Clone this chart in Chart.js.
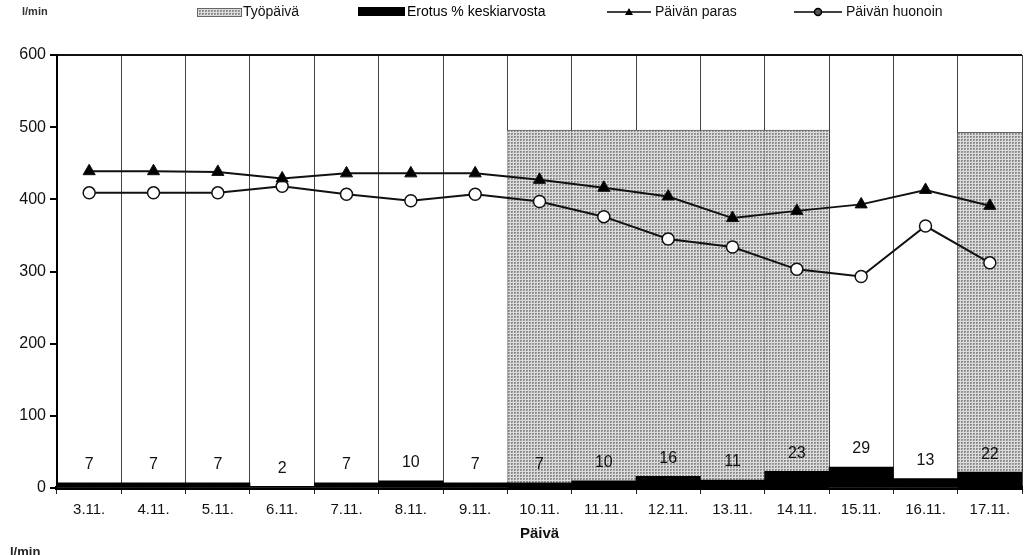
<!DOCTYPE html>
<html>
<head>
<meta charset="utf-8">
<script src="https://cdn.jsdelivr.net/npm/chart.js@4"></script>
<style>
  html, body { margin: 0; padding: 0; background: #fff; }
  #wrap { width: 1030px; height: 555px; position: relative; }
</style>
</head>
<body>
<div id="wrap"><canvas id="chart"></canvas></div>
<script>
// data
const paivat = ['3.11.', '4.11.', '5.11.', '6.11.', '7.11.', '8.11.', '9.11.', '10.11.',
                '11.11.', '12.11.', '13.11.', '14.11.', '15.11.', '16.11.', '17.11.'];
const tyopaiva = [0, 0, 0, 0, 0, 0, 0, 496, 496, 496, 496, 496, 0, 0, 493];
const erotus = [7, 7, 7, 2, 7, 10, 7, 7, 10, 16, 11, 23, 29, 13, 22];
const paivanParas = [439, 439, 438, 429, 436, 436, 436, 427, 416, 404, 374, 384, 393, 413, 391];
const paivanHuonoin = [409, 409, 409, 418, 407, 398, 407, 397, 376, 345, 334, 303, 293, 363, 312];
const yTicks = [0, 100, 200, 300, 400, 500, 600];

const FONT = '"Liberation Sans", Arial, sans-serif';

function makeGreyPattern(ctx) {
    const c = document.createElement('canvas');
    c.width = 3; c.height = 3;
    const g = c.getContext('2d');
    g.fillStyle = '#8c8c8c';
    g.fillRect(0, 0, 3, 3);
    g.fillStyle = '#dcdcdc';
    g.fillRect(0, 0, 3, 1);
    g.fillRect(0, 0, 1, 3);
    g.fillStyle = '#b0b0b0';
    g.fillRect(2, 2, 1, 1);
    return ctx.createPattern(c, 'repeat');
}

const canvas = document.getElementById('chart');
const ctx = canvas.getContext('2d');
const greyPattern = makeGreyPattern(ctx);

// numbers above the black bars
const barLabels = {
    id: 'barLabels',
    afterDatasetsDraw(chart) {
        const meta = chart.getDatasetMeta(1);
        const c = chart.ctx;
        c.save();
        c.fillStyle = '#111';
        c.font = '16px ' + FONT;
        c.textAlign = 'center';
        c.textBaseline = 'middle';
        meta.data.forEach((bar, i) => {
            c.fillText(String(erotus[i]), bar.x, bar.y - 18);
        });
        c.restore();
    }
};

// legend drawn in one row like the original
const topLegend = {
    id: 'topLegend',
    afterDraw(chart) {
        const c = chart.ctx;
        const ds = chart.data.datasets;
        const y = 12;
        c.save();
        c.font = '14px ' + FONT;
        c.textBaseline = 'middle';
        c.fillStyle = '#111';

        // Työpäivä
        c.fillStyle = greyPattern;
        c.fillRect(197, 8, 44, 8);
        c.strokeStyle = '#666';
        c.lineWidth = 1;
        c.strokeRect(197.5, 8.5, 44, 8);
        c.fillStyle = '#111';
        c.fillText(ds[2].label, 243, y);

        // Erotus
        c.fillStyle = '#000';
        c.fillRect(358, 7, 47, 9);
        c.fillText(ds[1].label, 407, y);

        // lines
        const lineItem = (x0, x1, d, tx) => {
            c.strokeStyle = '#000';
            c.lineWidth = 1.5;
            c.beginPath();
            c.moveTo(x0, y); c.lineTo(x1, y);
            c.stroke();
            const mx = (x0 + x1) / 2;
            if (d.pointStyle === 'triangle') {
                c.fillStyle = '#000';
                c.beginPath();
                c.moveTo(mx, y - 4); c.lineTo(mx + 4, y + 3); c.lineTo(mx - 4, y + 3);
                c.closePath(); c.fill();
            } else {
                c.fillStyle = '#555';
                c.beginPath();
                c.arc(mx, y, 3.5, 0, Math.PI * 2);
                c.fill(); c.stroke();
            }
            c.fillStyle = '#111';
            c.fillText(d.label, tx, y);
        };
        lineItem(607, 651, ds[0], 655);
        lineItem(794, 842, ds[3], 846);

        // unit texts
        c.font = 'bold 11px ' + FONT;
        c.fillStyle = '#333';
        c.fillText('l/min', 22, 12);
        c.font = 'bold 13px ' + FONT;
        c.fillStyle = '#222';
        c.fillText('l/min', 10, 552);
        c.restore();
    }
};

new Chart(ctx, {
    type: 'bar',
    data: {
        labels: paivat,
        datasets: [
            {
                type: 'line',
                label: 'Päivän paras',
                data: paivanParas,
                borderColor: '#111',
                backgroundColor: '#000',
                borderWidth: 2,
                pointStyle: 'triangle',
                pointRadius: 7,
                pointBorderWidth: 1,
                tension: 0,
                order: 0
            },
            {
                type: 'bar',
                label: 'Erotus % keskiarvosta',
                data: erotus,
                backgroundColor: '#000',
                borderWidth: 0,
                barPercentage: 1,
                categoryPercentage: 1,
                grouped: false,
                order: 2
            },
            {
                type: 'bar',
                label: 'Työpäivä',
                data: tyopaiva,
                backgroundColor: greyPattern,
                borderColor: '#666',
                borderWidth: { top: 1 },
                borderSkipped: 'bottom',
                barPercentage: 1,
                categoryPercentage: 1,
                grouped: false,
                order: 3
            },
            {
                type: 'line',
                label: 'Päivän huonoin',
                data: paivanHuonoin,
                borderColor: '#111',
                backgroundColor: '#fff',
                borderWidth: 2,
                pointStyle: 'circle',
                pointRadius: 6,
                pointBorderWidth: 1.5,
                tension: 0,
                order: 1
            }
        ]
    },
    options: {
        responsive: true,
        maintainAspectRatio: false,
        animation: false,
        layout: { padding: { top: 55, right: 7, left: 0, bottom: 0 } },
        plugins: {
            legend: { display: false },
            tooltip: { enabled: false }
        },
        scales: {
            x: {
                offset: true,
                grid: {
                    offset: true,
                    color: '#444',
                    lineWidth: 1,
                    tickLength: 6,
                    tickColor: '#222'
                },
                border: { display: true, color: '#000', width: 4 },
                ticks: {
                    color: '#111',
                    font: { family: FONT, size: 15 },
                    padding: 7,
                    maxRotation: 0,
                    autoSkip: false
                },
                title: {
                    display: true,
                    text: 'Päivä',
                    color: '#111',
                    font: { family: FONT, size: 15, weight: 'bold' },
                    padding: { top: 4, bottom: 12 }
                },
                afterFit(scale) { scale.height = 67; }
            },
            y: {
                min: 0,
                max: 600,
                afterBuildTicks(scale) { scale.ticks = yTicks.map(v => ({ value: v })); },
                grid: {
                    drawOnChartArea: true,
                    color: c => c.tick && c.tick.value === 600 ? '#111' : 'rgba(0,0,0,0)',
                    lineWidth: 2,
                    tickLength: 7,
                    tickColor: '#000'
                },
                border: { display: true, color: '#000', width: 2 },
                ticks: {
                    color: '#111',
                    font: { family: FONT, size: 16 },
                    padding: 4
                },
                afterFit(scale) { scale.width = 57; }
            }
        }
    },
    plugins: [barLabels, topLegend]
});
</script>
</body>
</html>
